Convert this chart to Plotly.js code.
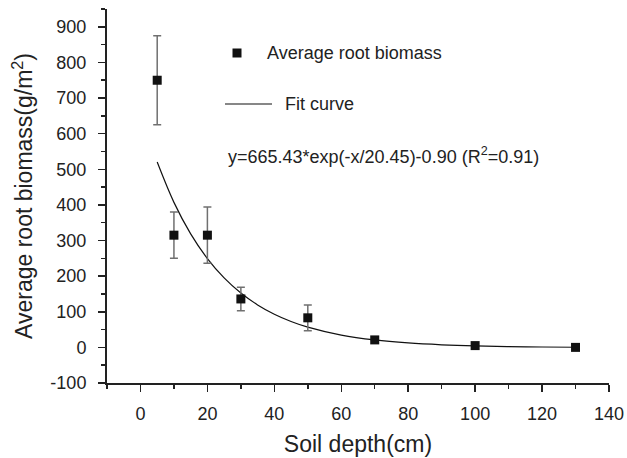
<!DOCTYPE html>
<html>
<head>
<meta charset="utf-8">
<script src="https://cdn.plot.ly/plotly-3.0.1.min.js"></script>
<style>html,body{margin:0;padding:0;background:#fff;}#chart{width:627px;height:458px;}</style>
</head>
<body>
<div id="chart"></div>
<script>
var depth = [5, 10, 20, 30, 50, 70, 100, 130];
var biomass = [750, 315, 315, 136, 83, 21, 5, 0];
var errorBar = [125, 65, 79, 33, 36, 0, 0, 0];

// Fit curve values
var fitDepth = [5, 10, 15, 20, 25, 30, 35, 40, 45, 50, 60, 70, 80, 90, 100, 110, 120, 130];
var fitBiomass = [520.2, 407.1, 318.6, 249.4, 195.1, 152.6, 119.3, 93.2, 72.8, 56.8, 34.5, 20.8, 12.4, 7.3, 4.1, 2.2, 1.0, 0.3];

var xTicks = [0, 20, 40, 60, 80, 100, 120, 140];
var yTicks = [-100, 0, 100, 200, 300, 400, 500, 600, 700, 800, 900];

var legendLabels = ["Average root biomass", "Fit curve"];
var equationText = "y=665.43*exp(-x/20.45)-0.90 (R<sup>2</sup>=0.91)";

var FONT = "Liberation Sans, Arial, Helvetica, sans-serif";

var traces = [
  {
    x: fitDepth, y: fitBiomass, type: "scatter", mode: "lines",
    line: {color: "#111", width: 1.2, shape: "spline"},
    hoverinfo: "skip", showlegend: false
  },
  {
    x: depth, y: biomass, type: "scatter", mode: "markers",
    marker: {symbol: "square", size: 9, color: "#111"},
    error_y: {type: "data", array: errorBar, visible: true, color: "#707070", thickness: 1.5, width: 4},
    showlegend: false
  }
];

var L = 107, R = 609, T = 9, B = 383;
function px(x) { return (x - L) / (R - L); }
function py(y) { return (B - y) / (B - T); }

var layout = {
  width: 627, height: 458,
  margin: {l: L, r: 627 - R, t: T, b: 458 - B},
  paper_bgcolor: "#fff", plot_bgcolor: "#fff",
  font: {family: FONT, size: 18, color: "#222"},
  showlegend: false,
  xaxis: {
    range: [-10, 140], tickvals: xTicks, ticktext: xTicks.map(String),
    ticks: "outside", ticklen: 7, tickwidth: 1.5, tickcolor: "#222",
    minor: {dtick: 10, tick0: 0, ticks: "outside", ticklen: 4, tickwidth: 1.5, tickcolor: "#222"},
    showline: true, linewidth: 2, linecolor: "#222",
    showgrid: false, zeroline: false,
    ticklabelstandoff: 6,
    tickfont: {family: FONT, size: 18, color: "#222"},
    title: {text: "Soil depth(cm)", font: {family: FONT, size: 23, color: "#222"}, standoff: 13}
  },
  yaxis: {
    range: [-100, 950], tickvals: yTicks, ticktext: yTicks.map(String),
    ticks: "outside", ticklen: 7, tickwidth: 1.5, tickcolor: "#222",
    minor: {dtick: 50, tick0: 0, ticks: "outside", ticklen: 4, tickwidth: 1.5, tickcolor: "#222"},
    showline: true, linewidth: 2, linecolor: "#222",
    showgrid: false, zeroline: false,
    ticklabelstandoff: 8,
    tickfont: {family: FONT, size: 18, color: "#222"},
    title: {text: "Average root biomass(g/m<sup>2</sup>)", font: {family: FONT, size: 23, color: "#222"}, standoff: 11}
  },
  shapes: [
    {type: "rect", xref: "paper", yref: "paper", xsizemode: "pixel", ysizemode: "pixel",
     xanchor: px(237), yanchor: py(53), x0: -4.5, x1: 4.5, y0: -4.5, y1: 4.5,
     fillcolor: "#111", line: {width: 0}},
    {type: "line", xref: "paper", yref: "paper", x0: px(225), x1: px(272), y0: py(104), y1: py(104),
     line: {color: "#111", width: 1.2}}
  ],
  annotations: [
    {xref: "paper", yref: "paper", x: px(265), y: py(53), xanchor: "left", yanchor: "middle",
     text: legendLabels[0], showarrow: false, font: {family: FONT, size: 18, color: "#222"}},
    {xref: "paper", yref: "paper", x: px(283), y: py(104), xanchor: "left", yanchor: "middle",
     text: legendLabels[1], showarrow: false, font: {family: FONT, size: 18, color: "#222"}},
    {xref: "paper", yref: "paper", x: px(226), y: py(155), xanchor: "left", yanchor: "middle",
     text: equationText, showarrow: false, font: {family: FONT, size: 18, color: "#222"}}
  ]
};

Plotly.newPlot("chart", traces, layout, {staticPlot: true, displayModeBar: false});
</script>
</body>
</html>
